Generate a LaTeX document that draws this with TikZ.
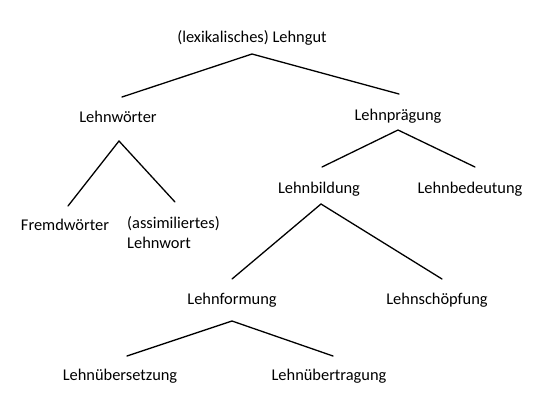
\documentclass[tikz,border=0pt]{standalone}
\usepackage{fontspec}
\setmainfont{Carlito}
\begin{document}
\begin{tikzpicture}[x=1pt,y=-1pt,
  lbl/.style={anchor=base,inner sep=0pt,font=\fontsize{16.4}{20}\selectfont},
  edge/.style={line width=1.3pt,line cap=round}]
\useasboundingbox (0,0) rectangle (543,408);
% labels
\node[lbl] (lg) at (252,42) {(lexikalisches) Lehngut};
\node[lbl] (lw) at (118,122) {Lehnwörter};
\node[lbl] (lp) at (398,120) {Lehnprägung};
\node[lbl] (fw) at (65,230) {Fremdwörter};
\node[lbl,anchor=base west,align=left] (al) at (127,248) {(assimiliertes)\\Lehnwort};
\node[lbl] (lb) at (319,193) {Lehnbildung};
\node[lbl] (lbd) at (470,193) {Lehnbedeutung};
\node[lbl] (lf) at (232,304) {Lehnformung};
\node[lbl] (ls) at (437,304) {Lehnschöpfung};
\node[lbl] (lue) at (120,380) {Lehnübersetzung};
\node[lbl] (lut) at (329,380) {Lehnübertragung};
% connector points
\coordinate (lgA) at (252,54);
\coordinate (lgL) at (122,97);
\coordinate (lgR) at (399,94);
\coordinate (lwA) at (119,141);
\coordinate (lwL) at (68,206);
\coordinate (lwR) at (175,202);
\coordinate (lpA) at (398,130);
\coordinate (lpL) at (322,167);
\coordinate (lpR) at (475,167);
\coordinate (lbA) at (321,204);
\coordinate (lbL) at (232,279);
\coordinate (lbR) at (442,279);
\coordinate (lfA) at (232,321);
\coordinate (lfL) at (127,356);
\coordinate (lfR) at (333,356);
% connectors
\draw[edge] (lgL) -- (lgA) -- (lgR);
\draw[edge] (lwL) -- (lwA) -- (lwR);
\draw[edge] (lpL) -- (lpA) -- (lpR);
\draw[edge] (lbL) -- (lbA) -- (lbR);
\draw[edge] (lfL) -- (lfA) -- (lfR);
\end{tikzpicture}
\end{document}
